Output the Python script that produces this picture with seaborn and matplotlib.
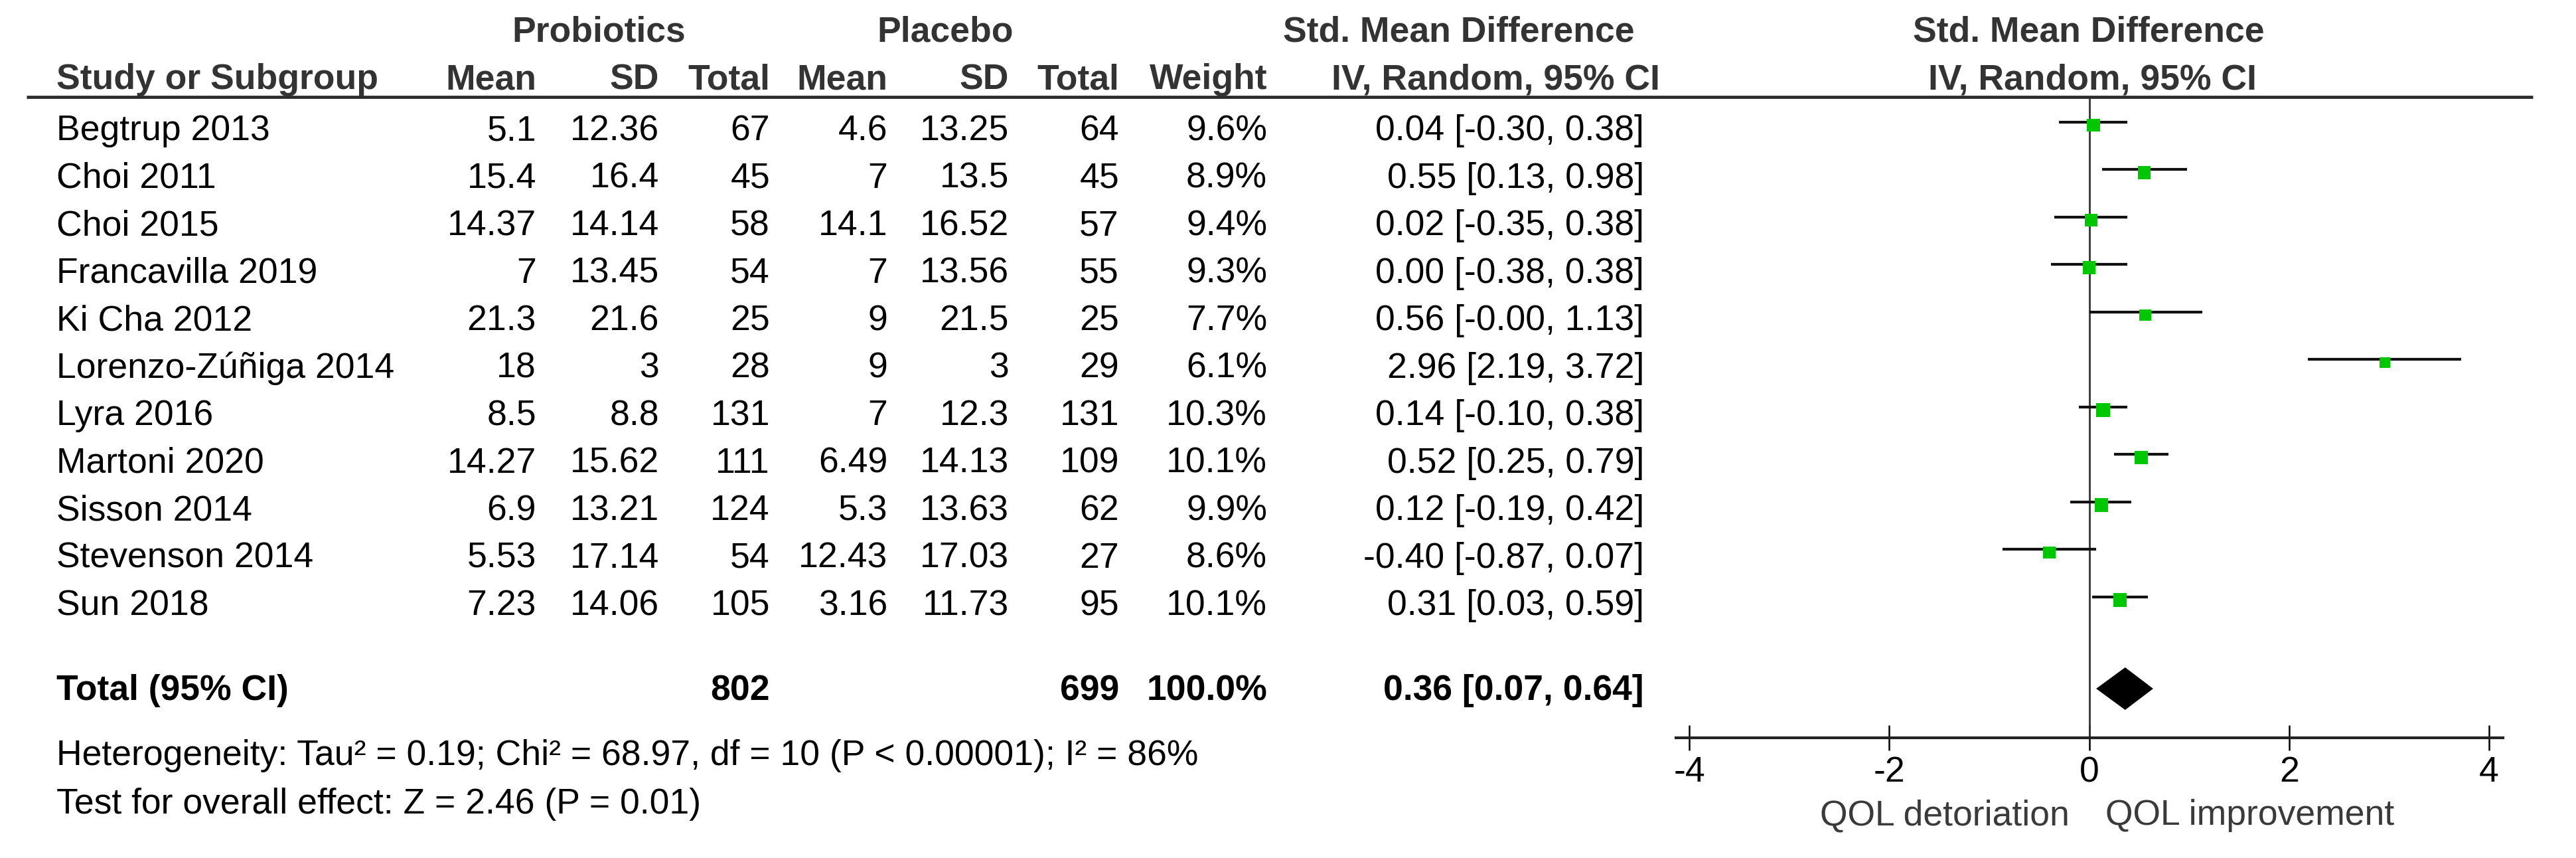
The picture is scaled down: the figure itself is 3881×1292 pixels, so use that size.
#!/usr/bin/env python3
# coding: utf-8

import pandas as pd
import seaborn as sns
import matplotlib.pyplot as plt

# ------------------------------------------------
# Data
# ------------------------------------------------
studies = ["Begtrup 2013", "Choi 2011", "Choi 2015", "Francavilla 2019",
           "Ki Cha 2012", "Lorenzo-Zúñiga 2014", "Lyra 2016", "Martoni 2020",
           "Sisson 2014", "Stevenson 2014", "Sun 2018"]
prob_mean = [5.1, 15.4, 14.37, 7, 21.3, 18, 8.5, 14.27, 6.9, 5.53, 7.23]
prob_sd = [12.36, 16.4, 14.14, 13.45, 21.6, 3, 8.8, 15.62, 13.21, 17.14, 14.06]
prob_n = [67, 45, 58, 54, 25, 28, 131, 111, 124, 54, 105]
plac_mean = [4.6, 7, 14.1, 7, 9, 9, 7, 6.49, 5.3, 12.43, 3.16]
plac_sd = [13.25, 13.5, 16.52, 13.56, 21.5, 3, 12.3, 14.13, 13.63, 17.03, 11.73]
plac_n = [64, 45, 57, 55, 25, 29, 131, 109, 62, 27, 95]
weight = [9.6, 8.9, 9.4, 9.3, 7.7, 6.1, 10.3, 10.1, 9.9, 8.6, 10.1]
smd = [0.04, 0.55, 0.02, 0.00, 0.56, 2.96, 0.14, 0.52, 0.12, -0.40, 0.31]
ci_lo = [-0.30, 0.13, -0.35, -0.38, -0.0, 2.19, -0.10, 0.25, -0.19, -0.87, 0.03]
ci_hi = [0.38, 0.98, 0.38, 0.38, 1.13, 3.72, 0.38, 0.79, 0.42, 0.07, 0.59]

total_prob_n = 802
total_plac_n = 699
total_weight = 100.0
total_smd, total_lo, total_hi = 0.36, 0.07, 0.64

heterogeneity = "Heterogeneity: Tau² = 0.19; Chi² = 68.97, df = 10 (P < 0.00001); I² = 86%"
overall = "Test for overall effect: Z = 2.46 (P = 0.01)"
xticks = [-4, -2, 0, 2, 4]
left_label = "QOL detoriation"
right_label = "QOL improvement"

df = pd.DataFrame({"study": studies, "smd": smd, "lo": ci_lo, "hi": ci_hi,
                   "weight": weight})
df["row"] = range(len(df))

# ------------------------------------------------
# Layout (pixels)
# ------------------------------------------------
sns.set_theme(style="white")
plt.rcParams['font.family'] = ['Liberation Sans', 'DejaVu Sans']

W, H = 3881, 1292
FS = 38.5
CAP = FS * 100 / 72 * 0.716
ROW0, ROWH = 192, 71.5
HEAD = '#333333'

fig = plt.figure(figsize=(W / 100, H / 100), dpi=100)
tab = fig.add_axes([0, 0, 1, 1])
tab.set_xlim(0, W)
tab.set_ylim(H, 0)
tab.axis('off')


def put(x, y, s, ha='right', bold=False, color='black'):
    tab.text(x, y + CAP / 2, s, ha=ha, va='baseline', fontsize=FS,
             fontweight='bold' if bold else 'normal', color=color)


# headers
put(902, 43, "Probiotics", 'center', True, HEAD)
put(1424, 43, "Placebo", 'center', True, HEAD)
put(2198, 43, "Std. Mean Difference", 'center', True, HEAD)
put(3147, 43, "Std. Mean Difference", 'center', True, HEAD)
put(85, 115, "Study or Subgroup", 'left', True, HEAD)
for x, s in [(808, "Mean"), (993, "SD"), (1160, "Total"), (1337, "Mean"),
             (1520, "SD"), (1686, "Total"), (1909, "Weight")]:
    put(x, 115, s, 'right', True, HEAD)
put(2253, 115, "IV, Random, 95% CI", 'center', True, HEAD)
put(3152, 115, "IV, Random, 95% CI", 'center', True, HEAD)
tab.plot([40, 3816], [146, 146], color='#2a2a2a', lw=3.4, solid_capstyle='butt')

# study rows
for i in range(len(studies)):
    y = ROW0 + ROWH * i
    put(85, y, studies[i], 'left')
    put(808, y, f"{prob_mean[i]:g}")
    put(993, y, f"{prob_sd[i]:g}")
    put(1160, y, f"{prob_n[i]}")
    put(1337, y, f"{plac_mean[i]:g}")
    put(1520, y, f"{plac_sd[i]:g}")
    put(1686, y, f"{plac_n[i]}")
    put(1909, y, f"{weight[i]:.1f}%")
    put(2477, y, f"{smd[i]:.2f} [{ci_lo[i]:.2f}, {ci_hi[i]:.2f}]")

# total row
yt = 1035
put(85, yt, "Total (95% CI)", 'left', True)
put(1160, yt, f"{total_prob_n}", 'right', True)
put(1686, yt, f"{total_plac_n}", 'right', True)
put(1909, yt, f"{total_weight:.1f}%", 'right', True)
put(2477, yt, f"{total_smd:.2f} [{total_lo:.2f}, {total_hi:.2f}]", 'right', True)
put(85, 1133, heterogeneity, 'left')
put(85, 1206, overall, 'left')

put(3118, 1223, left_label, 'right', color='#3a3a3a')
put(3172, 1223, right_label, 'left', color='#3a3a3a')

# ------------------------------------------------
# Forest panel
# ------------------------------------------------
x0, x1, ytop, ybot = 2525, 3771, 146, 1111
ax = fig.add_axes([x0 / W, (H - ybot) / H, (x1 - x0) / W, (ybot - ytop) / H])
ax.set_facecolor('none')
line0, step = 183.5, 71.5
ax.set_ylim((ybot - line0) / step, (ytop - line0) / step)
ax.set_xlim(-4.133, 4.139)

ax.axvline(0, color='#333333', lw=2, zorder=1)
ax.hlines(df["row"], df["lo"], df["hi"], color='#111111', lw=3, zorder=2)
df["ypos"] = df["row"] + 0.07
sns.scatterplot(data=df, x="smd", y="ypos", size="weight", sizes=(130, 220),
                marker='s', color='#00c800', edgecolor='none', linewidth=0,
                legend=False, ax=ax, zorder=3)

y_tot = (1037 - line0) / step
h = 32 / step
ax.fill([total_lo, total_smd, total_hi, total_smd],
        [y_tot, y_tot - h, y_tot, y_tot + h], color='black', lw=0, zorder=3)

for side in ['left', 'right', 'top']:
    ax.spines[side].set_visible(False)
ax.spines['bottom'].set_linewidth(3)
ax.spines['bottom'].set_color('#222222')
ax.set_yticks([])
ax.set_xticks(xticks)
ax.set_xticklabels([str(t) for t in xticks])
ax.tick_params(axis='x', direction='inout', length=27, width=1.8, pad=6,
               labelsize=FS, colors='black', bottom=True)
ax.set_xlabel("")
ax.set_ylabel("")
ax.grid(False)

fig.savefig("out.png", dpi=100, facecolor='white')
